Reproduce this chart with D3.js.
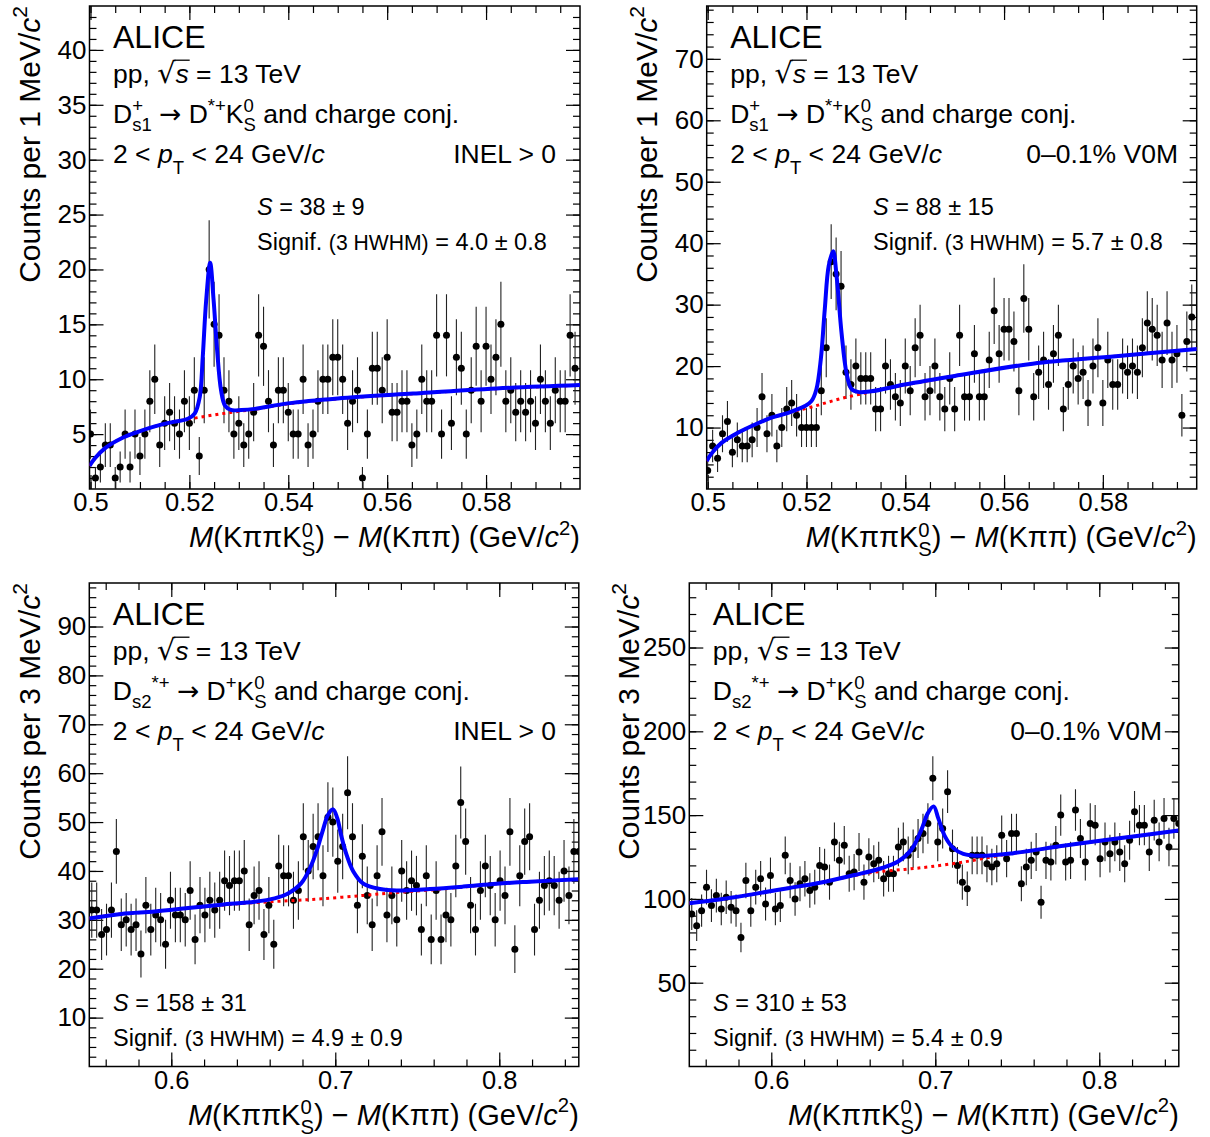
<!DOCTYPE html>
<html>
<head>
<meta charset="utf-8">
<script src="https://cdn.jsdelivr.net/npm/d3@7"></script>
<style>
  body { margin: 0; background: #fff; }
  svg text { font-family: "Liberation Sans", Arial, sans-serif; white-space: pre; fill: #000; }
</style>
</head>
<body>
<svg id="chart" width="1210" height="1137"></svg>
<script>
// ---- Ds1 panels: 1 MeV bins starting at 0.500 GeV/c2
const ds1BinStart = 0.5, ds1BinWidth = 0.001;
const ds1CountsINEL = [5,1,2,4,4,1,2,5,2,5,3,5,8,10,4,6,7,6,5,8,6,9,3,9,20,15,14,9,8,5,6,4,5,7,14,13,8,4,9,9,7,5,5,10,4,5,8,10,10,12,
  12,10,6,8,9,1,5,11,11,9,12,7,7,8,8,4,5,10,8,8,14,5,14,6,12,11,5,9,13,8,13,10,12,15,8,9,7,8,7,8,6,10,8,6,9,8,8,14,11];
const ds1CountsHM = [3,7,5,9,11,6,8,7,7,8,10,15,9,12,7,10,13,14,12,10,10,10,10,16,23,37,35,33,19,17,20,18,18,18,13,13,20,17,15,14,20,16,23,25,15,16,20,15,13,18,13,
  25,15,15,22,15,15,21,29,22,26,26,24,16,31,26,15,19,21,17,22,25,13,17,20,18,19,14,20,23,14,21,17,17,20,19,20,19,23,27,26,25,21,27,21,22,12,24,28];

// ---- Ds2 panels: 3 MeV bins, first centre at 0.5515 GeV/c2
const ds2BinStart = 0.5515, ds2BinWidth = 0.003;
const ds2CountsINEL = [32,32,27,28,32,44,29,30,28,29,23,33,28,31,30,25,34,31,31,30,36,26,33,31,34,32,34,38,37,38,38,40,29,35,36,27,33,25,41,39,39,34,36,47,40,45,47,39,51,50,42,
  45,56,47,33,43,35,29,39,48,31,35,30,40,36,38,37,28,39,26,36,26,31,30,41,54,46,33,28,36,41,37,30,38,35,48,24,39,46,47,28,34,37,38,37,34,40,35,44,44];
const ds2CountsHM = [91,84,93,107,96,102,94,101,95,93,77,111,93,107,112,97,114,94,96,126,111,100,109,112,105,107,120,119,110,134,123,132,115,116,128,110,125,121,123,112,115,115,131,134,126,130,136,139,145,172,134,
  142,164,130,120,110,106,126,126,126,121,119,121,138,124,139,139,109,119,123,128,98,123,122,132,150,122,123,153,136,122,145,144,124,134,127,134,128,121,135,152,144,144,128,147,134,148,131,148,145];

// ---- fit curves (total = blue, background = red)
const fitDs1INELx = [0.4998,0.5009,0.5029,0.5062,0.5096,0.5130,0.5163,0.5197,0.5211,0.5221,0.5227,0.5234,0.5242,0.5249,0.5256,0.5264,0.5272,0.5284,0.5305,0.5332,0.5399,0.5500,0.5652,0.5821,0.5990];
const fitDs1INELy = [2.1,2.8,3.7,4.6,5.2,5.7,6.07,6.4,6.9,8.4,12,17.2,20.6,17.2,12.7,9,7.6,7.2,7.2,7.3,7.8,8.25,8.7,9.16,9.47];
const bkgDs1INELx = [0.4998,0.5009,0.5029,0.5062,0.5096,0.5130,0.5163,0.5197,0.5230,0.5264,0.5297,0.5330,0.5399,0.5500,0.5652,0.5821,0.5990];
const bkgDs1INELy = [2.1,2.8,3.7,4.6,5.2,5.7,6.07,6.35,6.6,6.85,7.05,7.25,7.75,8.22,8.68,9.14,9.45];

const fitDs1HMx = [0.4998,0.5008,0.5028,0.5062,0.5096,0.5129,0.5163,0.5197,0.5210,0.5220,0.5229,0.5237,0.5245,0.5254,0.5261,0.5271,0.5281,0.5291,0.5304,0.5331,0.5399,0.5500,0.5658,0.5826,0.5991];
const fitDs1HMy = [4.55,5.8,7.5,9.2,10.5,11.6,12.4,13.5,14.3,16.2,21.1,29.2,36.3,38.7,34.6,25.4,18.9,16.3,15.8,15.9,17.0,18.4,20.4,21.6,22.8];
const bkgDs1HMx = [0.4998,0.5008,0.5028,0.5062,0.5096,0.5129,0.5163,0.5183,0.5217,0.5251,0.5284,0.5318,0.5345,0.5399,0.5500,0.5658,0.5826,0.5991];
const bkgDs1HMy = [4.55,5.8,7.5,9.2,10.5,11.6,12.4,12.8,13.5,14.3,15.0,15.6,16.1,16.9,18.4,20.4,21.6,22.8];

const fitDs2INELx = [0.55,0.5695,0.5899,0.6102,0.6305,0.6509,0.6630,0.6712,0.6793,0.6854,0.6895,0.6925,0.6956,0.6987,0.7012,0.7038,0.7069,0.7110,0.7171,0.7273,0.7374,0.7577,0.7780,0.7984,0.8187,0.8482];
const fitDs2INELy = [30.3,31.2,31.7,32.4,33.1,33.7,34.4,35.4,37.5,41.2,45,48.4,51.5,52.6,50.8,47,43.3,39.9,37.4,36.3,36.0,36.3,36.8,37.4,37.8,38.3];
const bkgDs2INELx = [0.55,0.5695,0.5899,0.6102,0.6305,0.6509,0.6712,0.6915,0.7171,0.7374,0.7577,0.7780,0.7984,0.8187,0.8482];
const bkgDs2INELy = [30.3,31.2,31.7,32.4,33.0,33.5,33.9,34.3,35.0,35.6,36.1,36.7,37.4,37.8,38.3];

const fitDs2HMx = [0.55,0.5695,0.5899,0.6102,0.6305,0.6509,0.6671,0.6773,0.6854,0.6915,0.6955,0.6990,0.7018,0.7059,0.7110,0.7171,0.7273,0.7476,0.7780,0.8085,0.8482];
const fitDs2HMy = [97.4,99.8,103,106.4,109.8,114.3,118.3,122.3,129.3,141.2,151.2,155.2,148.2,137.3,130.3,126.9,125.7,127.3,131.7,135.7,140.8];
const bkgDs2HMx = [0.55,0.5695,0.5899,0.6102,0.6305,0.6509,0.6630,0.6813,0.6967,0.7171,0.7374,0.7476,0.7780,0.8085,0.8482];
const bkgDs2HMy = [97.4,99.8,103,106.4,109.8,114.0,116.0,117.6,119.2,122.0,125.6,127.2,131.7,135.7,140.8];

// ---- axis ticks
const ds1XTicks = [0.5, 0.52, 0.54, 0.56, 0.58];
const ds2XTicks = [0.6, 0.7, 0.8];
const yTicksDs1INEL = [5,10,15,20,25,30,35,40];
const yTicksDs1HM = [10,20,30,40,50,60,70];
const yTicksDs2INEL = [10,20,30,40,50,60,70,80,90];
const yTicksDs2HM = [50,100,150,200,250];

const svg = d3.select('#chart');

// draws a line of text made of pieces (normal / italic / sub / sup / stacked sub+sup)
function rich(parent, x, y, parts, size, anchor) {
    const g = parent.append('g');
    let cx = 0;
    const put = (str, fs, dy, italic, font) => {
        const t = g.append('text')
            .attr('x', cx).attr('y', dy)
            .attr('font-size', fs)
            .attr('font-style', italic ? 'italic' : 'normal')
            .text(str);
        if (font) t.style('font-family', font);
        return t.node().getComputedTextLength();
    };
    parts.forEach(p => {
        if (typeof p === 'string') { cx += put(p, size, 0, false); return; }
        if (p.subsup) {
            const w1 = put(p.subsup[0], size * 0.7, size * 0.32, false);
            const w2 = put(p.subsup[1], size * 0.7, -size * (p.up || 0.42), false);
            cx += Math.max(w1, w2);
        } else if (p.sub) {
            cx += put(p.sub, size * 0.7, size * (p.low || 0.32), false);
        } else if (p.sup) {
            cx += put(p.sup, size * 0.7, -size * 0.42, p.i);
        } else if (p.sqrt) {
            cx += put('\u221A', size * 1.08, 0, false, 'DejaVu Sans');
            const x0 = cx - 1;
            cx += put(p.sqrt, size, 0, true);
            g.append('line').attr('x1', x0).attr('x2', cx + 1)
                .attr('y1', -size * 0.86).attr('y2', -size * 0.86)
                .attr('stroke', '#000').attr('stroke-width', 1.3);
        } else {
            cx += put(p.t, size * (p.scale || 1), 0, p.i, p.font);
        }
    });
    const x0 = anchor === 'end' ? x - cx : x;
    g.attr('transform', `translate(${x0},${y})`);
    return g;
}

const arrow = {t: '\u2192', font: 'DejaVu Sans'};
const ds1Decay = ['D', {subsup: ['s1', '+']}, ' ', arrow, ' D', {sup: '*+'}, 'K', {subsup: ['S', '0']}, ' and charge conj.'];
const ds2Decay = ['D', {sub: 's2'}, {sup: '*+'}, ' ', arrow, ' D', {sup: '+'}, 'K', {subsup: ['S', '0']}, ' and charge conj.'];
const ptLine = ['2 < ', {t: 'p', i: true}, {sub: 'T', low: 0.42}, ' < 24 GeV/', {t: 'c', i: true}];
const ppLine = ['pp, ', {sqrt: 's'}, ' = 13 TeV'];
const xTitle = [{t: 'M', i: true}, '(K\u03C0\u03C0K', {subsup: ['S', '0'], up: 0.36}, ') \u2212 ', {t: 'M', i: true}, '(K\u03C0\u03C0) (GeV/', {t: 'c', i: true}, {sup: '2'}, ')'];

const panels = [
    { box: {l: 89.5, r: 580, t: 6, b: 489}, xDomain: [0.4998, 0.599], yDomain: [0, 44],
      binStart: ds1BinStart, binWidth: ds1BinWidth, counts: ds1CountsINEL,
      fitX: fitDs1INELx, fitY: fitDs1INELy, bkgX: bkgDs1INELx, bkgY: bkgDs1INELy,
      xTicks: ds1XTicks, xMinor: 0.005, yTicks: yTicksDs1INEL, yMinor: 1,
      yTitle: 'Counts per 1 MeV/', decay: ds1Decay, cls: 'INEL > 0', clsRight: 556,
      sig: ['38 \u00B1 9', '4.0 \u00B1 0.8'], sigX: 257, sigY: [215, 250], titleX: 40 },
    { box: {l: 706.7, r: 1196.7, t: 6, b: 489}, xDomain: [0.4998, 0.599], yDomain: [0, 78.6],
      binStart: ds1BinStart, binWidth: ds1BinWidth, counts: ds1CountsHM,
      fitX: fitDs1HMx, fitY: fitDs1HMy, bkgX: bkgDs1HMx, bkgY: bkgDs1HMy,
      xTicks: ds1XTicks, xMinor: 0.005, yTicks: yTicksDs1HM, yMinor: 2,
      yTitle: 'Counts per 1 MeV/', decay: ds1Decay, cls: '0\u20130.1% V0M', clsRight: 1178,
      sig: ['88 \u00B1 15', '5.7 \u00B1 0.8'], sigX: 873, sigY: [215, 250], titleX: 657 },
    { box: {l: 89.3, r: 578.8, t: 583, b: 1066.5}, xDomain: [0.55, 0.8485], yDomain: [0, 98.9],
      binStart: ds2BinStart, binWidth: ds2BinWidth, counts: ds2CountsINEL,
      fitX: fitDs2INELx, fitY: fitDs2INELy, bkgX: bkgDs2INELx, bkgY: bkgDs2INELy,
      xTicks: ds2XTicks, xMinor: 0.02, yTicks: yTicksDs2INEL, yMinor: 2,
      yTitle: 'Counts per 3 MeV/', decay: ds2Decay, cls: 'INEL > 0', clsRight: 556,
      sig: ['158 \u00B1 31', '4.9 \u00B1 0.9'], sigX: 113, sigY: [1011, 1046], titleX: 40 },
    { box: {l: 689.3, r: 1178.8, t: 583, b: 1066.5}, xDomain: [0.55, 0.8485], yDomain: [0, 288.5],
      binStart: ds2BinStart, binWidth: ds2BinWidth, counts: ds2CountsHM,
      fitX: fitDs2HMx, fitY: fitDs2HMy, bkgX: bkgDs2HMx, bkgY: bkgDs2HMy,
      xTicks: ds2XTicks, xMinor: 0.02, yTicks: yTicksDs2HM, yMinor: 10,
      yTitle: 'Counts per 3 MeV/', decay: ds2Decay, cls: '0\u20130.1% V0M', clsRight: 1162,
      sig: ['310 \u00B1 53', '5.4 \u00B1 0.9'], sigX: 713, sigY: [1011, 1046], titleX: 639 }
];

panels.forEach((p, k) => {
    const {l, r, t, b} = p.box;
    const x = d3.scaleLinear().domain(p.xDomain).range([l, r]);
    const y = d3.scaleLinear().domain(p.yDomain).range([b, t]);
    const g = svg.append('g');

    const clipId = 'clip' + k;
    svg.append('clipPath').attr('id', clipId)
        .append('rect').attr('x', l).attr('y', t).attr('width', r - l).attr('height', b - t);

    // minor / major ticks, all pointing into the frame
    const xMinorVals = d3.range(Math.ceil(p.xDomain[0] / p.xMinor) * p.xMinor, p.xDomain[1], p.xMinor);
    const yMinorVals = d3.range(p.yMinor, p.yDomain[1], p.yMinor);
    const styleAxis = sel => { sel.select('.domain').remove(); sel.selectAll('line').attr('stroke', '#000').attr('stroke-width', 1.2); };

    g.append('g').attr('transform', `translate(0,${b})`)
        .call(d3.axisBottom(x).tickValues(xMinorVals).tickSize(-7).tickFormat('')).call(styleAxis);
    g.append('g').attr('transform', `translate(0,${t})`)
        .call(d3.axisTop(x).tickValues(xMinorVals).tickSize(-7).tickFormat('')).call(styleAxis);
    g.append('g').attr('transform', `translate(${l},0)`)
        .call(d3.axisLeft(y).tickValues(yMinorVals).tickSize(-7).tickFormat('')).call(styleAxis);
    g.append('g').attr('transform', `translate(${r},0)`)
        .call(d3.axisRight(y).tickValues(yMinorVals).tickSize(-7).tickFormat('')).call(styleAxis);

    const xAxis = g.append('g').attr('transform', `translate(0,${b})`)
        .call(d3.axisBottom(x).tickValues(p.xTicks).tickSize(-14).tickPadding(4).tickFormat(d => String(d))).call(styleAxis);
    g.append('g').attr('transform', `translate(0,${t})`)
        .call(d3.axisTop(x).tickValues(p.xTicks).tickSize(-14).tickFormat('')).call(styleAxis);
    const yAxis = g.append('g').attr('transform', `translate(${l},0)`)
        .call(d3.axisLeft(y).tickValues(p.yTicks).tickSize(-14).tickPadding(3)).call(styleAxis);
    g.append('g').attr('transform', `translate(${r},0)`)
        .call(d3.axisRight(y).tickValues(p.yTicks).tickSize(-14).tickFormat('')).call(styleAxis);

    xAxis.attr('font-family', null).attr('font-size', null);
    xAxis.selectAll('text').attr('font-size', 25.5).attr('fill', '#000');
    yAxis.attr('font-family', null).attr('font-size', null);
    yAxis.selectAll('text').attr('font-size', 26).attr('fill', '#000');

    // frame
    g.append('rect').attr('x', l).attr('y', t).attr('width', r - l).attr('height', b - t)
        .attr('fill', 'none').attr('stroke', '#000').attr('stroke-width', 1.5);

    // data with Poisson error bars
    const pts = p.counts.map((c, i) => ({ m: p.binStart + i * p.binWidth, c: c, e: Math.sqrt(c) }));
    const plot = g.append('g').attr('clip-path', `url(#${clipId})`);
    plot.selectAll('.err').data(pts).enter().append('line')
        .attr('class', 'err')
        .attr('x1', d => x(d.m)).attr('x2', d => x(d.m))
        .attr('y1', d => y(Math.max(0, d.c - d.e))).attr('y2', d => y(d.c + d.e))
        .attr('stroke', '#222').attr('stroke-width', 1.1);
    plot.selectAll('.dot').data(pts).enter().append('circle')
        .attr('class', 'dot')
        .attr('cx', d => x(d.m)).attr('cy', d => y(d.c))
        .attr('r', 3.5).attr('fill', '#000');

    const line = d3.line().x(d => x(d[0])).y(d => y(d[1])).curve(d3.curveCatmullRom.alpha(0.5));
    plot.append('path').datum(d3.zip(p.bkgX, p.bkgY)).attr('d', line)
        .attr('fill', 'none').attr('stroke', '#ff0000').attr('stroke-width', 3).attr('stroke-dasharray', '3,4');
    plot.append('path').datum(d3.zip(p.fitX, p.fitY)).attr('d', line)
        .attr('fill', 'none').attr('stroke', '#0000ff').attr('stroke-width', 4);

    // texts
    const tx = l + 23.5;
    const base = t + 42;
    rich(svg, tx, base, ['ALICE'], 32);
    rich(svg, tx, base + 35, ppLine, 26.5);
    rich(svg, tx, base + 75, p.decay, 26.5);
    rich(svg, tx, base + 115, ptLine, 26.5);
    rich(svg, p.clsRight, base + 115, [p.cls], 26.5, 'end');

    rich(svg, p.sigX, p.sigY[0], [{t: 'S', i: true}, ' = ' + p.sig[0]], 23.5);
    rich(svg, p.sigX, p.sigY[1], ['Signif. ', {t: '(3 HWHM)', scale: 0.9}, ' = ' + p.sig[1]], 23.5);

    // axis titles
    rich(svg, r, b + 58, xTitle, 29, 'end');
    const yt = svg.append('g').attr('transform', `translate(${p.titleX},${t}) rotate(-90)`);
    rich(yt, 0, 0, [p.yTitle, {t: 'c', i: true}, {sup: '2'}], 30, 'end');
});
</script>
</body>
</html>
